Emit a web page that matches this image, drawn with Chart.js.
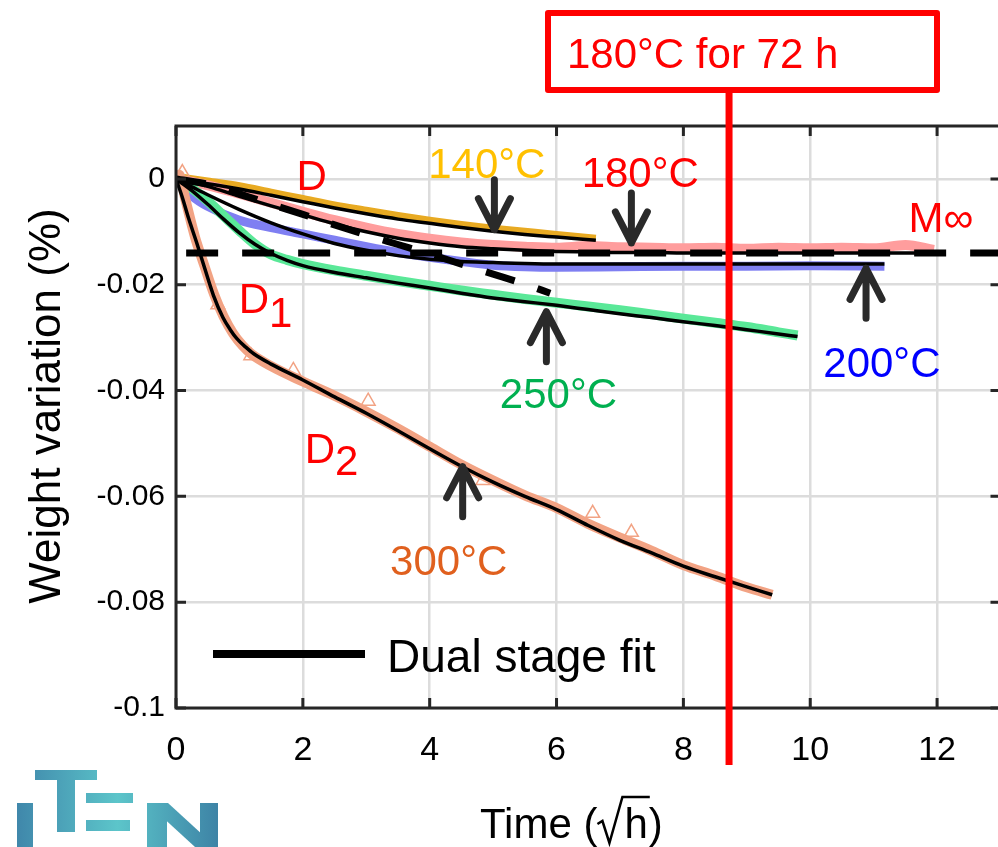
<!DOCTYPE html>
<html>
<head>
<meta charset="utf-8">
<title>Weight variation vs time</title>
<script src="https://cdn.jsdelivr.net/npm/chart.js@4.4.1/dist/chart.umd.min.js"></script>
<style>
  html, body { margin: 0; padding: 0; background: #fff; overflow: hidden; }
  #wrap { width: 998px; height: 847px; overflow: hidden; }
  canvas { display: block; }
</style>
</head>
<body>
<div id="wrap"><canvas id="chart" width="1010" height="847"></canvas></div>
<script>
// --- axes ---
const xTicks = [0, 2, 4, 6, 8, 10, 12];
const xTickLabels = ['0', '2', '4', '6', '8', '10', '12'];
const yTicks = [-0.1, -0.08, -0.06, -0.04, -0.02, 0];
const yTickLabels = ['-0.1', '-0.08', '-0.06', '-0.04', '-0.02', '0'];

// --- 140 °C ---
const t140 = [0, 0.5, 1, 1.5, 2, 2.5, 3, 3.5, 4, 4.5, 5, 5.5, 6, 6.62];
const raw140 = [0.0005, -0.0004, -0.0013, -0.0025, -0.0037, -0.0049, -0.0059, -0.0069, -0.0078, -0.0086, -0.0093, -0.0099, -0.0105, -0.0112];
const fit140 = [0, -0.0009, -0.0019, -0.0031, -0.0043, -0.0055, -0.0066, -0.0076, -0.0084, -0.0092, -0.0099, -0.0105, -0.0110, -0.0116];

// --- 180 °C ---
const t180 = [0, 0.5, 1, 1.5, 2, 2.5, 3, 3.5, 4, 4.5, 5, 5.5, 6, 6.5, 7, 7.5, 8, 8.5, 9, 9.5, 10, 10.5, 11, 11.5, 11.95];
const raw180 = [0, -0.0012, -0.0028, -0.0045, -0.0062, -0.0078, -0.0092, -0.0104, -0.0113, -0.0120, -0.0125, -0.0128, -0.0130, -0.0127, -0.0129, -0.0130, -0.0131, -0.0130, -0.0132, -0.0130, -0.0131, -0.0130, -0.0131, -0.0125, -0.0134];
const fit180 = [0, -0.0014, -0.0033, -0.0051, -0.0068, -0.0085, -0.0100, -0.0112, -0.0121, -0.0128, -0.0132, -0.0135, -0.0137, -0.0138, -0.0139, -0.0139, -0.0140, -0.0140, -0.0140, -0.0140, -0.0140, -0.0140, -0.0140, -0.0140, -0.0140];

// --- 200 °C ---
const t200 = [0, 0.25, 0.5, 1, 1.5, 2, 2.5, 3, 3.5, 4, 4.5, 5, 5.5, 6, 7, 8, 9, 10, 11.17];
const raw200 = [0, -0.0032, -0.0052, -0.0078, -0.0092, -0.0104, -0.0116, -0.0128, -0.0139, -0.0148, -0.0156, -0.0163, -0.0166, -0.0167, -0.0166, -0.0165, -0.0165, -0.0164, -0.0165];
const fit200 = [0, -0.0015, -0.0030, -0.0058, -0.0083, -0.0104, -0.0122, -0.0135, -0.0145, -0.0152, -0.0156, -0.0158, -0.0160, -0.0161, -0.0161, -0.0161, -0.0161, -0.0161, -0.0161];

// --- 250 °C ---
const t250 = [0, 0.25, 0.5, 0.75, 1, 1.25, 1.5, 1.75, 2, 2.5, 3, 3.5, 4, 4.5, 5, 5.5, 6, 6.5, 7, 7.5, 8, 8.5, 9, 9.5, 9.8];
const raw250 = [0, -0.0018, -0.0042, -0.0070, -0.0098, -0.0124, -0.0143, -0.0153, -0.0161, -0.0173, -0.0183, -0.0193, -0.0202, -0.0211, -0.0219, -0.0227, -0.0234, -0.0241, -0.0248, -0.0256, -0.0264, -0.0272, -0.0280, -0.0290, -0.0296];
const fit250 = [0, -0.0022, -0.0048, -0.0076, -0.0102, -0.0124, -0.0141, -0.0154, -0.0164, -0.0177, -0.0187, -0.0197, -0.0206, -0.0216, -0.0225, -0.0232, -0.0239, -0.0247, -0.0255, -0.0262, -0.0270, -0.0277, -0.0285, -0.0293, -0.0298];

// --- 300 °C ---
const t300raw = [0, 0.05, 0.15, 0.3, 0.45, 0.6, 0.75, 0.9, 1.05, 1.2, 1.5, 2, 2.5, 3, 3.5, 4, 4.5, 5, 5.5, 6, 6.5, 7, 7.5, 8, 8.5, 9, 9.4];
const raw300 = [0, 0.0008, -0.0040, -0.0110, -0.0165, -0.0218, -0.0260, -0.0292, -0.0315, -0.0332, -0.0354, -0.0383, -0.0410, -0.0440, -0.0472, -0.0506, -0.0540, -0.0570, -0.0598, -0.0622, -0.0652, -0.0678, -0.0703, -0.0730, -0.0750, -0.0772, -0.0786];
const t300fit = [0, 0.1, 0.2, 0.33, 0.45, 0.59, 0.74, 0.85, 0.96, 1.1, 1.22, 1.5, 2, 2.5, 3, 3.5, 4, 4.5, 5, 5.5, 6, 6.5, 7, 7.5, 8, 8.5, 9, 9.4];
const fit300 = [0, -0.0035, -0.0075, -0.0122, -0.0168, -0.0220, -0.0262, -0.0284, -0.0302, -0.0318, -0.0330, -0.0350, -0.0380, -0.0412, -0.0443, -0.0476, -0.0510, -0.0543, -0.0573, -0.0600, -0.0625, -0.0655, -0.0683, -0.0707, -0.0732, -0.0752, -0.0771, -0.0786];
const mark300x = [0.1, 0.66, 1.18, 1.85, 3.03, 4.84, 6.57, 7.18];
const mark300y = [0.0012, -0.0238, -0.0334, -0.0362, -0.0420, -0.0570, -0.0632, -0.0668];

// --- single stage (D) and plateau (M∞) ---
const dX = [0, 0.5, 1, 1.5, 2, 2.5, 3, 3.5, 4, 4.5, 5, 5.5, 5.9];
const dY = [0, -0.0010, -0.0028, -0.0048, -0.0067, -0.0087, -0.0106, -0.0124, -0.0142, -0.0161, -0.0180, -0.0199, -0.0216];
const mInfX = [0.16, 13];
const mInfY = [-0.014, -0.014];

// ageing marker: 180 °C for 72 h
const holdX = 8.72;

// annotations (data coordinates)
const arrows = [
  { x: 5.02, y: -0.0096, dir: 1 },
  { x: 7.18, y: -0.0121, dir: 1 },
  { x: 10.88, y: -0.0169, dir: -1 },
  { x: 5.84, y: -0.0251, dir: -1 },
  { x: 4.52, y: -0.0544, dir: -1 }
];
const notes = [
  { text: 'D', x: 2.14, y: -0.0021, color: '#ff0000' },
  { text: '140°C', x: 4.90, y: 0.0002, color: '#ffc000' },
  { text: '180°C', x: 7.32, y: -0.0015, color: '#ff0000' },
  { text: 'M∞', x: 12.06, y: -0.0100, color: '#ff0000' },
  { text: '200°C', x: 11.13, y: -0.0374, color: '#0000ff' },
  { text: '250°C', x: 6.03, y: -0.0433, color: '#00b050' },
  { text: '300°C', x: 4.30, y: -0.0749, color: '#e0601e' },
  { text: 'D', x: 1.23, y: -0.0253, color: '#ff0000' },
  { text: '1', x: 1.65, y: -0.0280, color: '#ff0000' },
  { text: 'D', x: 2.27, y: -0.0537, color: '#ff0000' },
  { text: '2', x: 2.69, y: -0.0560, color: '#ff0000' }
];

const SANS = "'Liberation Sans', Arial, sans-serif";

const pts = (xs, ys) => xs.map((x, i) => ({ x: x, y: ys[i] }));

const rawSet = (label, xs, ys, color, width) => ({
  label: label, data: pts(xs, ys), borderColor: color, borderWidth: width,
  pointRadius: 0, cubicInterpolationMode: 'monotone', borderJoinStyle: 'round', order: 3
});
const fitSet = (label, xs, ys) => ({
  label: label, data: pts(xs, ys), borderColor: '#000', borderWidth: 3.5,
  pointRadius: 0, cubicInterpolationMode: 'monotone', order: 1
});

const decor = {
  id: 'decor',
  afterDatasetsDraw(chart) {
    const { ctx, chartArea: a, scales: { x, y } } = chart;
    ctx.save();
    // box + inward ticks
    ctx.strokeStyle = '#262626';
    ctx.lineWidth = 3;
    ctx.beginPath();
    xTicks.forEach(v => {
      const px = x.getPixelForValue(v);
      ctx.moveTo(px, a.bottom); ctx.lineTo(px, a.bottom - 10);
      ctx.moveTo(px, a.top); ctx.lineTo(px, a.top + 10);
    });
    yTicks.forEach(v => {
      const py = y.getPixelForValue(v);
      ctx.moveTo(a.left, py); ctx.lineTo(a.left + 10, py);
      ctx.moveTo(a.right, py); ctx.lineTo(a.right - 10, py);
    });
    ctx.stroke();
    ctx.strokeRect(a.left, a.top, a.right - a.left, a.bottom - a.top);

    // arrows
    ctx.strokeStyle = '#2a2a2a';
    ctx.lineWidth = 7;
    ctx.lineCap = 'round';
    ctx.lineJoin = 'round';
    arrows.forEach(ar => {
      const px = x.getPixelForValue(ar.x);
      const py = y.getPixelForValue(ar.y);
      ctx.beginPath();
      ctx.moveTo(px, py - ar.dir * 50);
      ctx.lineTo(px, py);
      ctx.moveTo(px - 16, py - ar.dir * 31);
      ctx.lineTo(px, py);
      ctx.lineTo(px + 16, py - ar.dir * 31);
      ctx.stroke();
    });
    ctx.restore();
  },
  afterDraw(chart) {
    const { ctx, scales: { x, y } } = chart;
    ctx.save();

    // curve labels
    ctx.font = '42px ' + SANS;
    ctx.textAlign = 'center';
    ctx.textBaseline = 'alphabetic';
    notes.forEach(n => {
      ctx.fillStyle = n.color;
      ctx.fillText(n.text, x.getPixelForValue(n.x), y.getPixelForValue(n.y));
    });

    // legend
    ctx.strokeStyle = '#000';
    ctx.lineWidth = 8;
    ctx.lineCap = 'butt';
    ctx.beginPath();
    ctx.moveTo(213, 654);
    ctx.lineTo(365, 654);
    ctx.stroke();
    ctx.fillStyle = '#000';
    ctx.textAlign = 'left';
    ctx.font = '46px ' + SANS;
    ctx.fillText('Dual stage fit', 387, 672);

    // y title
    ctx.save();
    ctx.translate(60, 406);
    ctx.rotate(-Math.PI / 2);
    ctx.textAlign = 'center';
    ctx.font = '44px ' + SANS;
    ctx.fillText('Weight variation (%)', 0, 0, 400);
    ctx.restore();

    // x title with radical
    ctx.font = '42px ' + SANS;
    ctx.textAlign = 'left';
    const base = 838;
    const head = 'Time (';
    ctx.fillText(head, 480, base);
    const rx = 480 + ctx.measureText(head).width;
    const hw = ctx.measureText('h').width;
    ctx.lineWidth = 2.5;
    ctx.lineJoin = 'miter';
    ctx.beginPath();
    ctx.moveTo(rx, 824);
    ctx.lineTo(rx + 5, 821);
    ctx.lineTo(rx + 12, 843);
    ctx.lineTo(rx + 25, 797);
    ctx.lineTo(rx + 27 + hw + 2, 797);
    ctx.stroke();
    ctx.fillText('h', rx + 27, base);
    ctx.fillText(')', rx + 27 + hw + 1, base);

    // red ageing line + box
    const hx = x.getPixelForValue(holdX);
    ctx.strokeStyle = '#ff0000';
    ctx.lineWidth = 7;
    ctx.beginPath();
    ctx.moveTo(hx, 90);
    ctx.lineTo(hx, 765);
    ctx.stroke();
    ctx.lineWidth = 6;
    ctx.lineJoin = 'round';
    ctx.fillStyle = '#fff';
    ctx.fillRect(548, 13, 389, 77);
    ctx.strokeRect(548, 13, 389, 77);
    ctx.fillStyle = '#ff0000';
    ctx.font = '42px ' + SANS;
    ctx.fillText('180°C for 72 h', 567, 68);

    // logo
    const g = ctx.createLinearGradient(15, 0, 220, 0);
    g.addColorStop(0, '#3f86aa');
    g.addColorStop(0.5, '#5cc5ca');
    g.addColorStop(1, '#3d82a5');
    ctx.fillStyle = g;
    ctx.fillRect(17, 803, 16, 44);
    ctx.fillRect(35, 770, 62, 10);
    ctx.fillRect(57, 780, 18, 52);
    ctx.fillRect(86, 793, 47, 10);
    ctx.fillRect(86, 820, 44, 11);
    ctx.fillRect(147, 803, 20, 44);
    ctx.fillRect(200, 803, 18, 44);
    ctx.beginPath();
    ctx.moveTo(147, 803); ctx.lineTo(168, 803); ctx.lineTo(216, 847); ctx.lineTo(195, 847);
    ctx.closePath();
    ctx.fill();

    ctx.restore();
  }
};

new Chart(document.getElementById('chart'), {
  type: 'line',
  data: {
    datasets: [
      rawSet('300°C', t300raw, raw300, '#f2a384', 10),
      rawSet('250°C', t250, raw250, '#5ae898', 10),
      rawSet('200°C', t200, raw200, '#7f7ff2', 9),
      rawSet('180°C', t180, raw180, '#ff9d9d', 10),
      rawSet('140°C', t140, raw140, '#e8aa22', 7),
      {
        label: '300°C markers', data: pts(mark300x, mark300y), showLine: false,
        pointStyle: 'triangle', pointRadius: 8, pointBorderWidth: 1.5,
        pointBorderColor: '#f2a384', pointBackgroundColor: 'rgba(255,255,255,0)', order: 2
      },
      fitSet('fit 300', t300fit, fit300),
      fitSet('fit 250', t250, fit250),
      fitSet('fit 200', t200, fit200),
      fitSet('fit 180', t180, fit180),
      fitSet('fit 140', t140, fit140),
      {
        label: 'D', data: pts(dX, dY), borderColor: '#000', borderWidth: 7,
        borderDash: [30, 24], pointRadius: 0, cubicInterpolationMode: 'monotone', order: 0
      },
      {
        label: 'M∞', data: pts(mInfX, mInfY), borderColor: '#000', borderWidth: 7,
        borderDash: [32, 24], pointRadius: 0, order: 0
      }
    ]
  },
  options: {
    responsive: false,
    animation: false,
    devicePixelRatio: 1,
    layout: { padding: { top: 126, right: 8, bottom: 0, left: 0 } },
    plugins: { legend: { display: false }, tooltip: { enabled: false } },
    scales: {
      x: {
        type: 'linear', min: 0, max: 13,
        afterBuildTicks: ax => { ax.ticks = xTicks.map(v => ({ value: v })); },
        afterFit: ax => { ax.height = 139; },
        grid: { color: '#dcdcdc', lineWidth: 2.5, drawTicks: false },
        border: { display: false },
        ticks: {
          padding: 22, color: '#000', maxRotation: 0, autoSkip: false,
          font: { family: SANS, size: 34 },
          callback: v => xTickLabels[xTicks.indexOf(v)]
        }
      },
      y: {
        type: 'linear', min: -0.1, max: 0.01,
        afterBuildTicks: ax => { ax.ticks = yTicks.map(v => ({ value: v })); },
        afterFit: ax => { ax.width = 176; },
        grid: { color: '#dcdcdc', lineWidth: 2.5, drawTicks: false },
        border: { display: false },
        ticks: {
          padding: 11, color: '#000', autoSkip: false,
          font: { family: SANS, size: 30 },
          callback: v => yTickLabels[yTicks.indexOf(v)]
        }
      }
    }
  },
  plugins: [decor]
});
</script>
</body>
</html>
